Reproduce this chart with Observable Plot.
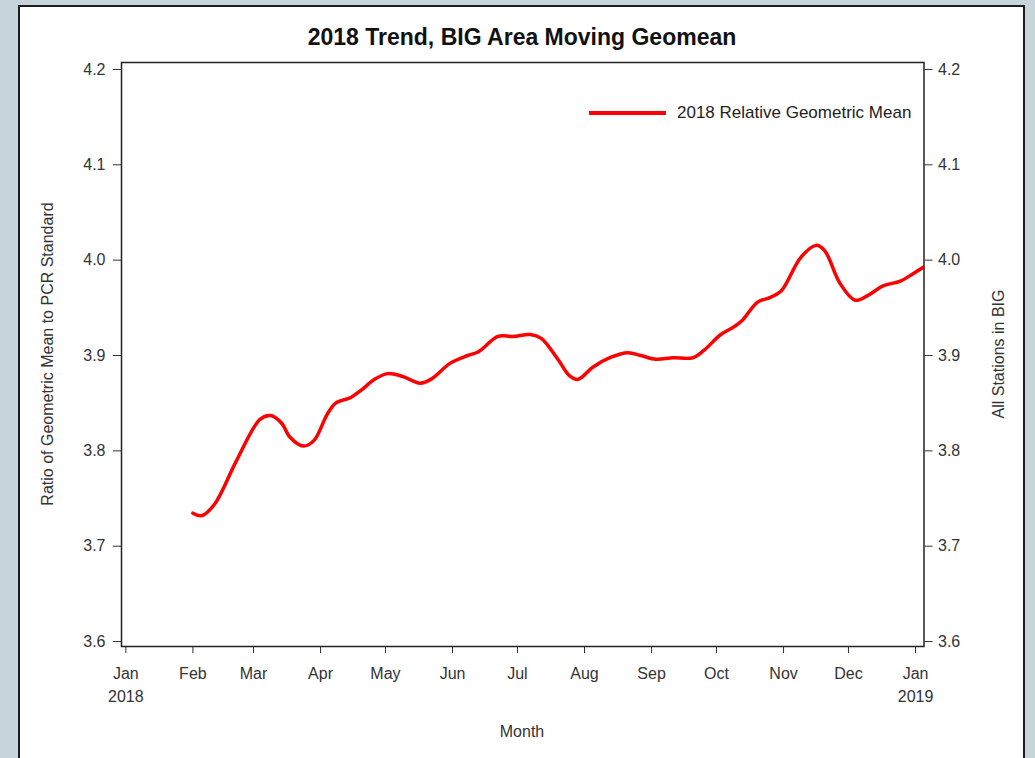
<!DOCTYPE html>
<html>
<head>
<meta charset="utf-8">
<script src="https://cdn.jsdelivr.net/npm/d3@7"></script>
<script src="https://cdn.jsdelivr.net/npm/@observablehq/plot@0.6"></script>
<style>
  html, body { margin: 0; padding: 0; }
  body { width: 1035px; height: 758px; background: #c8d4db; position: relative; overflow: hidden;
         font-family: "Liberation Sans", Arial, sans-serif; }
  #panel { position: absolute; left: 18px; top: 5px; width: 1007px; height: 800px; background: #fff;
           border: 2px solid #1e1e1e; box-sizing: border-box; }
  #chart { position: absolute; left: 0; top: 0; }
  #title { position: absolute; left: 0; width: 1044px; top: 23px; text-align: center;
           font-size: 23px; font-weight: bold; color: #111; line-height: 28px; }
  #legend { position: absolute; left: 589px; top: 102px; height: 22px; display: flex; align-items: center;
            font-size: 17px; color: #222; }
  #legend .swatch { width: 77px; height: 3.5px; background: #ff0000; margin-right: 11px; }
  .axlabel { position: absolute; white-space: nowrap; font-size: 16px; color: #333; line-height: 18px; }
  .rot { transform: translate(-50%, -50%) rotate(-90deg); }
  .hor { transform: translate(-50%, -50%); }
</style>
</head>
<body>
<div id="panel"></div>
<div id="chart"></div>
<div id="title">2018 Trend, BIG Area Moving Geomean</div>
<div id="legend"><span class="swatch"></span><span>2018 Relative Geometric Mean</span></div>
<div class="axlabel rot" style="left:48px; top:354px;">Ratio of Geometric Mean to PCR Standard</div>
<div class="axlabel rot" style="left:999px; top:354px;">All Stations in BIG</div>
<div class="axlabel hor" style="left:522px; top:732px;">Month</div>
<script>
// Series: 2018 relative geometric mean (moving)
const dates = [
  "2018-02-01","2018-02-05","2018-02-11","2018-02-21","2018-03-04","2018-03-09","2018-03-14",
  "2018-03-18","2018-03-24","2018-03-29","2018-04-04","2018-04-08","2018-04-15","2018-04-20","2018-04-26",
  "2018-05-02","2018-05-09","2018-05-17","2018-05-22","2018-05-31","2018-06-08","2018-06-13","2018-06-22",
  "2018-06-29","2018-07-07","2018-07-12","2018-07-20","2018-07-25","2018-07-29","2018-08-05","2018-08-13",
  "2018-08-21","2018-08-27","2018-09-03","2018-09-11","2018-09-20","2018-09-25","2018-10-03","2018-10-09",
  "2018-10-13","2018-10-20","2018-10-26","2018-10-31","2018-11-09","2018-11-16","2018-11-20","2018-11-27",
  "2018-12-04","2018-12-10","2018-12-17","2018-12-25","2018-12-31","2019-01-05"
];
const values = [
  3.7346,3.732,3.744,3.789,3.833,3.837,3.829,
  3.814,3.805,3.811,3.838,3.850,3.856,3.864,3.875,
  3.881,3.878,3.871,3.875,3.892,3.900,3.904,3.920,
  3.920,3.922,3.918,3.895,3.879,3.875,3.888,3.898,
  3.903,3.900,3.896,3.8976,3.8976,3.905,3.922,3.930,
  3.937,3.956,3.961,3.968,4.003,4.0155,4.010,3.976,
  3.958,3.963,3.973,3.978,3.986,3.993
];
// Axis ticks
const monthTicks = ["2018-01-01","2018-02-01","2018-03-01","2018-04-01","2018-05-01","2018-06-01","2018-07-01",
  "2018-08-01","2018-09-01","2018-10-01","2018-11-01","2018-12-01","2019-01-01"];
const monthLabels = ["Jan\n2018","Feb","Mar","Apr","May","Jun","Jul","Aug","Sep","Oct","Nov","Dec","Jan\n2019"];
const yTicks = [3.6, 3.7, 3.8, 3.9, 4.0, 4.1, 4.2];

const data = dates.map((d, i) => ({date: new Date(d + "T00:00:00Z"), value: values[i]}));
const tickDates = monthTicks.map(d => new Date(d + "T00:00:00Z"));
const labelFor = d => { const i = tickDates.findIndex(t => +t === +d); return i >= 0 ? monthLabels[i] : ""; };

const chart = Plot.plot({
  width: 1035,
  height: 758,
  marginLeft: 121,
  marginRight: 111.5,
  marginTop: 62,
  marginBottom: 112,
  style: {fontSize: "16px", fontFamily: "'Liberation Sans', Arial, sans-serif", color: "#333", background: "transparent", overflow: "visible"},
  x: {type: "utc", domain: [new Date(Date.UTC(2017, 11, 30)), new Date(Date.UTC(2019, 0, 4, 22))]},
  y: {domain: [3.5948, 4.2073]},
  marks: [
    Plot.axisX({ticks: tickDates, tickFormat: labelFor, tickSize: 7, tickPadding: 9, lineHeight: 1.45, label: null}),
    Plot.axisY({anchor: "left", ticks: yTicks, tickFormat: d3.format(".1f"), tickSize: 8, tickPadding: 8, label: null}),
    Plot.axisY({anchor: "right", ticks: yTicks, tickFormat: d3.format(".1f"), tickSize: 8, tickPadding: 6, label: null}),
    Plot.lineY(data, {x: "date", y: "value", stroke: "#ff0000", strokeWidth: 3.5, curve: "catmull-rom", clip: true}),
    Plot.frame({stroke: "#222", strokeWidth: 1.5})
  ]
});
document.getElementById("chart").appendChild(chart);
</script>
</body>
</html>
